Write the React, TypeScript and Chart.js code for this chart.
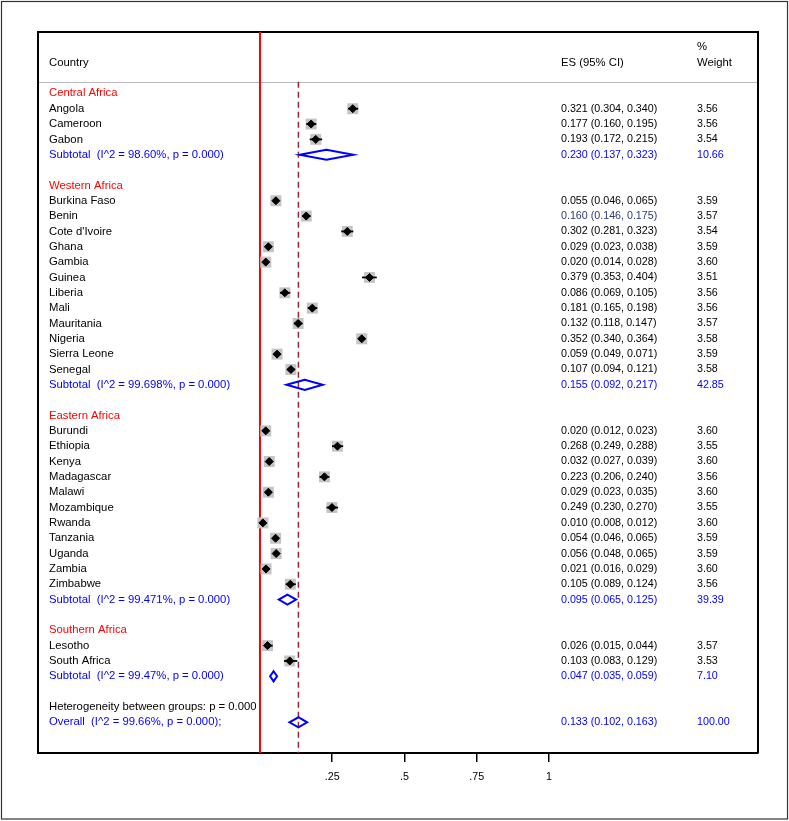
import { useEffect, useRef } from 'react';
import { Chart, registerables } from 'chart.js';

Chart.register(...registerables);

// ---- data ----
const GROUP_NAMES = ['Central Africa', 'Western Africa', 'Eastern Africa', 'Southern Africa'];
const GROUP_SIZES = [3, 12, 11, 2];

const COUNTRIES = [
  'Angola', 'Cameroon', 'Gabon',
  'Burkina Faso', 'Benin', "Cote d'Ivoire", 'Ghana', 'Gambia', 'Guinea', 'Liberia', 'Mali', 'Mauritania', 'Nigeria', 'Sierra Leone', 'Senegal',
  'Burundi', 'Ethiopia', 'Kenya', 'Madagascar', 'Malawi', 'Mozambique', 'Rwanda', 'Tanzania', 'Uganda', 'Zambia', 'Zimbabwe',
  'Lesotho', 'South Africa',
];
const ES = [
  0.321, 0.177, 0.193,
  0.055, 0.160, 0.302, 0.029, 0.020, 0.379, 0.086, 0.181, 0.132, 0.352, 0.059, 0.107,
  0.020, 0.268, 0.032, 0.223, 0.029, 0.249, 0.010, 0.054, 0.056, 0.021, 0.105,
  0.026, 0.103,
];
const CI_LOW = [
  0.304, 0.160, 0.172,
  0.046, 0.146, 0.281, 0.023, 0.014, 0.353, 0.069, 0.165, 0.118, 0.340, 0.049, 0.094,
  0.012, 0.249, 0.027, 0.206, 0.023, 0.230, 0.008, 0.046, 0.048, 0.016, 0.089,
  0.015, 0.083,
];
const CI_HIGH = [
  0.340, 0.195, 0.215,
  0.065, 0.175, 0.323, 0.038, 0.028, 0.404, 0.105, 0.198, 0.147, 0.364, 0.071, 0.121,
  0.023, 0.288, 0.039, 0.240, 0.035, 0.270, 0.012, 0.065, 0.065, 0.029, 0.124,
  0.044, 0.129,
];
const WEIGHTS = [
  3.56, 3.56, 3.54,
  3.59, 3.57, 3.54, 3.59, 3.60, 3.51, 3.56, 3.56, 3.57, 3.58, 3.59, 3.58,
  3.60, 3.55, 3.60, 3.56, 3.60, 3.55, 3.60, 3.59, 3.59, 3.60, 3.56,
  3.57, 3.53,
];
// estimate text printed in a different ink
const ES_TEXT_ALT = ['Benin'];

const SUBTOTAL_I2 = ['98.60%', '99.698%', '99.471%', '99.47%'];
const SUBTOTAL_ES = [0.230, 0.155, 0.095, 0.047];
const SUBTOTAL_LOW = [0.137, 0.092, 0.065, 0.035];
const SUBTOTAL_HIGH = [0.323, 0.217, 0.125, 0.059];
const SUBTOTAL_WEIGHT = [10.66, 42.85, 39.39, 7.10];

const OVERALL_I2 = '99.66%';
const OVERALL_ES = 0.133;
const OVERALL_LOW = 0.102;
const OVERALL_HIGH = 0.163;
const OVERALL_WEIGHT = 100.0;
const HETEROGENEITY_P = '0.000';

const TICK_VALUES = [0.25, 0.5, 0.75, 1];
const TICK_LABELS = ['.25', '.5', '.75', '1'];

// ---- styling / layout ----
const W = 789;
const H = 821;
const X_MIN = -0.768;
const X_MAX = 1.723;
const ROW_MIN = -4;
const ROW_MAX = 43;
const FONT = '"Liberation Sans", Arial, sans-serif';
const LABEL_FONT_SIZE = 11.3;
const NUM_FONT_SIZE = 10.7;
const LABEL_X = 49;
const ES_X = 561;
const WEIGHT_X = 697;
const DIAMOND_HALF = 0.33;
const BLUE = '#0000ff';
const RED = '#ff0000';
const ALT_INK = '#2b3a70';

type TextRow = { row: number; label: string; labelColor: string; es?: string; esColor?: string; weight?: string };

const fmtCI = (e: number, l: number, h: number) => `${e.toFixed(3)} (${l.toFixed(3)}, ${h.toFixed(3)})`;

function buildRows() {
  const textRows: TextRow[] = [];
  const studyRows: number[] = [];
  const subtotalRows: number[] = [];
  let row = 0;
  let k = 0;
  GROUP_NAMES.forEach((g, gi) => {
    textRows.push({ row, label: g, labelColor: RED });
    row++;
    for (let j = 0; j < GROUP_SIZES[gi]; j++, k++) {
      studyRows.push(row);
      textRows.push({
        row,
        label: COUNTRIES[k],
        labelColor: '#000',
        es: fmtCI(ES[k], CI_LOW[k], CI_HIGH[k]),
        esColor: ES_TEXT_ALT.includes(COUNTRIES[k]) ? ALT_INK : '#000',
        weight: WEIGHTS[k].toFixed(2),
      });
      row++;
    }
    subtotalRows.push(row);
    textRows.push({
      row,
      label: `Subtotal  (I^2 = ${SUBTOTAL_I2[gi]}, p = 0.000)`,
      labelColor: BLUE,
      es: fmtCI(SUBTOTAL_ES[gi], SUBTOTAL_LOW[gi], SUBTOTAL_HIGH[gi]),
      esColor: BLUE,
      weight: SUBTOTAL_WEIGHT[gi].toFixed(2),
    });
    row += 2;
  });
  textRows.push({ row, label: `Heterogeneity between groups: p = ${HETEROGENEITY_P}`, labelColor: '#000' });
  row++;
  const overallRow = row;
  textRows.push({
    row,
    label: `Overall  (I^2 = ${OVERALL_I2}, p = 0.000);`,
    labelColor: BLUE,
    es: fmtCI(OVERALL_ES, OVERALL_LOW, OVERALL_HIGH),
    esColor: BLUE,
    weight: OVERALL_WEIGHT.toFixed(2),
  });
  return { textRows, studyRows, subtotalRows, overallRow };
}

const diamond = (lo: number, es: number, hi: number, r: number) => [
  { x: lo, y: r },
  { x: es, y: r - DIAMOND_HALF },
  { x: hi, y: r },
  { x: es, y: r + DIAMOND_HALF },
  { x: lo, y: r },
  { x: es, y: r - DIAMOND_HALF },
];

export default function App() {
  const ref = useRef<HTMLCanvasElement>(null);

  useEffect(() => {
    const canvas = ref.current;
    if (!canvas) return;
    const { textRows, studyRows, subtotalRows, overallRow } = buildRows();

    const lineBase = { showLine: true, pointRadius: 0, fill: false, tension: 0 };

    const datasets: any[] = [
      // null line at zero
      { ...lineBase, data: [{ x: 0, y: ROW_MIN }, { x: 0, y: ROW_MAX }], borderColor: RED, borderWidth: 2, order: 10 },
      // overall estimate line
      {
        ...lineBase,
        data: [{ x: OVERALL_ES, y: -0.75 }, { x: OVERALL_ES, y: ROW_MAX }],
        borderColor: '#9a2438',
        borderWidth: 1.5,
        borderDash: [6, 4],
        order: 9,
      },
      // weight boxes
      {
        data: ES.map((e, i) => ({ x: e, y: studyRows[i] })),
        pointStyle: 'rect',
        pointRadius: WEIGHTS.map((w) => 4.1 * Math.sqrt(w)),
        pointBackgroundColor: '#c4c4c4',
        pointBorderWidth: 0,
        order: 8,
      },
      // confidence intervals
      ...ES.map((_, i) => ({
        ...lineBase,
        data: [{ x: CI_LOW[i], y: studyRows[i] }, { x: CI_HIGH[i], y: studyRows[i] }],
        borderColor: '#000',
        borderWidth: 1.8,
        order: 7,
      })),
      // point estimates
      {
        data: ES.map((e, i) => ({ x: e, y: studyRows[i] })),
        pointStyle: 'rectRot',
        pointRadius: 4,
        pointBackgroundColor: '#000',
        pointBorderColor: '#000',
        pointBorderWidth: 1,
        order: 6,
      },
      // subtotal diamonds
      ...SUBTOTAL_ES.map((e, gi) => ({
        ...lineBase,
        data: diamond(SUBTOTAL_LOW[gi], e, SUBTOTAL_HIGH[gi], subtotalRows[gi]),
        borderColor: BLUE,
        borderWidth: 2,
        borderJoinStyle: 'miter',
        order: 5,
      })),
      // overall diamond
      {
        ...lineBase,
        data: diamond(OVERALL_LOW, OVERALL_ES, OVERALL_HIGH, overallRow),
        borderColor: BLUE,
        borderWidth: 2,
        borderJoinStyle: 'miter',
        order: 5,
      },
    ];

    const framePlugin = {
      id: 'forestFrame',
      beforeDatasetsDraw(chart: any) {
        const { ctx, chartArea } = chart;
        const y = chart.scales.y;
        ctx.save();
        // outer frame
        ctx.strokeStyle = '#333';
        ctx.lineWidth = 1.2;
        ctx.strokeRect(1.5, 1.5, W - 3, H - 3.5);
        // plot box (left, top, right)
        ctx.strokeStyle = '#000';
        ctx.lineWidth = 2;
        ctx.beginPath();
        ctx.moveTo(chartArea.left, chartArea.bottom);
        ctx.lineTo(chartArea.left, chartArea.top);
        ctx.lineTo(chartArea.right, chartArea.top);
        ctx.lineTo(chartArea.right, chartArea.bottom);
        ctx.stroke();
        // header separator
        const hy = Math.round(y.getPixelForValue(-0.75)) + 0.5;
        ctx.strokeStyle = '#b8b8b8';
        ctx.lineWidth = 1;
        ctx.beginPath();
        ctx.moveTo(chartArea.left + 1, hy);
        ctx.lineTo(chartArea.right - 1, hy);
        ctx.stroke();
        ctx.restore();
      },
      afterDatasetsDraw(chart: any) {
        const { ctx } = chart;
        const y = chart.scales.y;
        const labelFont = `${LABEL_FONT_SIZE}px ${FONT}`;
        const numFont = `${NUM_FONT_SIZE}px ${FONT}`;
        ctx.save();
        ctx.textBaseline = 'middle';
        ctx.textAlign = 'left';
        ctx.fillStyle = '#000';
        ctx.font = labelFont;
        ctx.fillText('Country', LABEL_X, y.getPixelForValue(-2));
        ctx.fillText('ES (95% CI)', ES_X, y.getPixelForValue(-2));
        ctx.fillText('%', WEIGHT_X, y.getPixelForValue(-3));
        ctx.fillText('Weight', WEIGHT_X, y.getPixelForValue(-2));
        textRows.forEach((r) => {
          const py = y.getPixelForValue(r.row);
          ctx.font = labelFont;
          ctx.fillStyle = r.labelColor;
          ctx.fillText(r.label, LABEL_X, py);
          ctx.font = numFont;
          if (r.es) {
            ctx.fillStyle = r.esColor;
            ctx.fillText(r.es, ES_X, py);
          }
          if (r.weight) {
            ctx.fillStyle = r.labelColor === BLUE ? BLUE : '#000';
            ctx.fillText(r.weight, WEIGHT_X, py);
          }
        });
        ctx.restore();
      },
    };

    const chart = new Chart(canvas, {
      type: 'scatter',
      data: { datasets },
      options: {
        responsive: false,
        animation: false,
        devicePixelRatio: 1,
        events: [],
        layout: { padding: { left: 38, right: 31, top: 32, bottom: 0 } },
        plugins: { legend: { display: false }, tooltip: { enabled: false } },
        scales: {
          x: {
            type: 'linear',
            min: X_MIN,
            max: X_MAX,
            afterBuildTicks: (scale: any) => {
              scale.ticks = TICK_VALUES.map((v) => ({ value: v }));
            },
            afterFit: (scale: any) => {
              scale.height = 68;
            },
            grid: { display: true, drawOnChartArea: false, drawTicks: true, tickLength: 9, color: '#000', lineWidth: 1.5 },
            border: { display: true, color: '#000', width: 2 },
            ticks: {
              autoSkip: false,
              maxRotation: 0,
              padding: 9,
              color: '#000',
              font: { family: FONT, size: NUM_FONT_SIZE },
              callback: (v: any) => {
                const i = TICK_VALUES.indexOf(Number(v));
                return i >= 0 ? TICK_LABELS[i] : '';
              },
            },
          },
          y: { type: 'linear', display: false, reverse: true, min: ROW_MIN, max: ROW_MAX },
        },
      },
      plugins: [framePlugin],
    } as any);

    return () => chart.destroy();
  }, []);

  return (
    <div style={{ position: 'absolute', left: 0, top: 0, width: W, height: H, background: '#fff' }}>
      <canvas ref={ref} width={W} height={H} style={{ display: 'block' }} />
    </div>
  );
}
